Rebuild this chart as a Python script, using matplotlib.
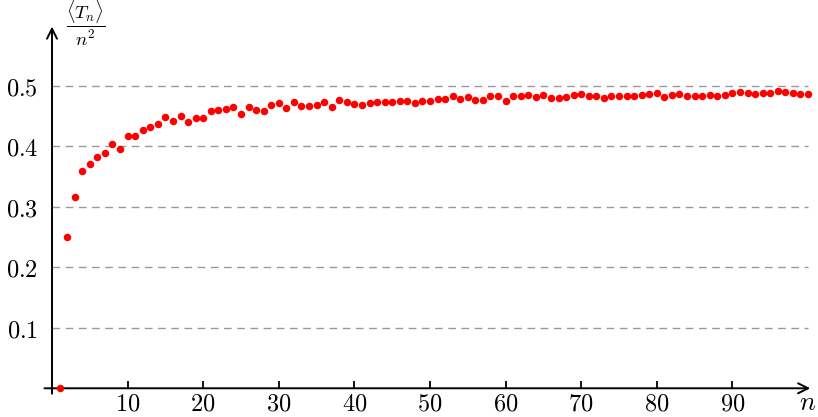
import matplotlib
matplotlib.use("Agg")
import matplotlib.pyplot as plt
import numpy as np

plt.rcParams['mathtext.fontset'] = 'cm'

n = list(range(1, 101))
ratio = [
    0.0, 0.2496, 0.3167, 0.359, 0.370, 0.382, 0.3895, 0.4038, 0.396, 0.4165,
    0.417, 0.4264, 0.4324, 0.4369, 0.4484, 0.4418, 0.4506, 0.4402, 0.4463, 0.4463,
    0.4589, 0.460, 0.4617, 0.4644, 0.4534, 0.4644, 0.460, 0.4589, 0.4677, 0.471,
    0.4638, 0.4738, 0.4661, 0.4671, 0.4688, 0.4727, 0.4644, 0.4765, 0.4735, 0.4694,
    0.4683, 0.4721, 0.4738, 0.4738, 0.4732, 0.4754, 0.4754, 0.4721, 0.4749, 0.4749,
    0.4777, 0.4777, 0.4826, 0.4787, 0.482, 0.4765, 0.477, 0.4834, 0.4834, 0.4754,
    0.4837, 0.4837, 0.4843, 0.482, 0.4848, 0.4798, 0.4793, 0.4815, 0.4853, 0.4859,
    0.4831, 0.4831, 0.4798, 0.4831, 0.4834, 0.4832, 0.4834, 0.4853, 0.4865, 0.4881,
    0.482, 0.4843, 0.4865, 0.4837, 0.4837, 0.4837, 0.4843, 0.4831, 0.4853, 0.4881,
    0.4892, 0.4881, 0.4859, 0.4881, 0.4881, 0.4909, 0.4892, 0.4887, 0.4865, 0.4865,
]
xticks = [10, 20, 30, 40, 50, 60, 70, 80, 90]
yticks = [0.1, 0.2, 0.3, 0.4, 0.5]

fig = plt.figure(figsize=(8.18, 4.17), dpi=100)
ax = fig.add_axes([44/818, 22/417, 768/818, 373/417])
ax.set_xlim(-1.058, 100.53)
ax.set_ylim(-0.0111, 0.6055)
for s in ax.spines.values():
    s.set_visible(False)

# grid
ax.hlines(yticks, 0, 100, colors='#999999', linestyles=(0, (5.5, 4)), lw=1.0, zorder=1)

# axes with arrows
ax.annotate('', xy=(100.3, 0), xytext=(-1.0, 0),
            arrowprops=dict(arrowstyle='->', lw=1.4, color='black', mutation_scale=18,
                            shrinkA=0, shrinkB=0), zorder=3)
ax.annotate('', xy=(0, 0.598), xytext=(0, -0.009),
            arrowprops=dict(arrowstyle='->', lw=1.4, color='black', mutation_scale=18,
                            shrinkA=0, shrinkB=0), zorder=3)

ax.plot(n, ratio, 'o', color='#ff0000', ms=5.4, mec='none', zorder=4, clip_on=False)

ax.spines['bottom'].set_position(('data', 0))
ax.spines['left'].set_position(('data', 0))
ax.set_xticks(xticks)
ax.set_xticklabels([f'${t}$' for t in xticks])
ax.set_yticks(yticks)
ax.set_yticklabels([f'${t}$' for t in yticks])
ax.tick_params(axis='x', direction='in', length=5, width=1.3, pad=2, labelsize=17.5,
               bottom=True, top=False)
ax.tick_params(axis='y', direction='in', length=0, width=1.3, pad=10, labelsize=17.5,
               left=True, right=False)

ax.text(4.5, 0.604, r'$\dfrac{\langle T_n\rangle}{n^2}$', fontsize=13.5, ha='center', va='center')
ax.text(100.0, -0.024, r'$n$', fontsize=19, ha='center', va='center')

fig.savefig('out.png', dpi=100)
